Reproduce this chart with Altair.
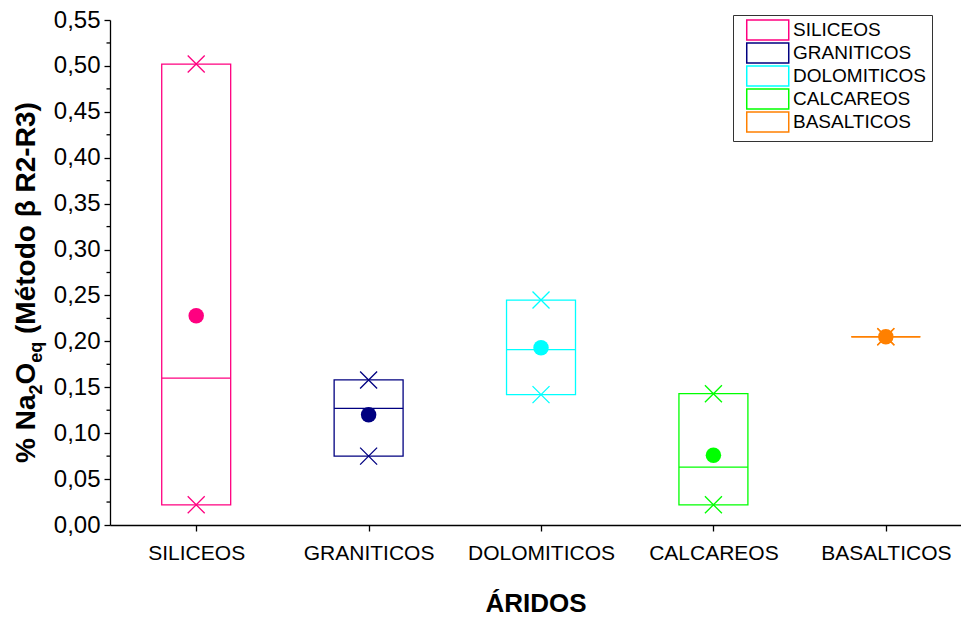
import altair as alt
import pandas as pd

# Aggregate kinds and their summary statistics (% Na2Oeq)
categories = ["SILICEOS", "GRANITICOS", "DOLOMITICOS", "CALCAREOS", "BASALTICOS"]
colors = ["#FF0080", "#000080", "#00FFFF", "#00FF00", "#FF8000"]
box_low = [0.022, 0.075, 0.142, 0.022, 0.205]
box_high = [0.502, 0.158, 0.245, 0.143, 0.205]
medians = [0.160, 0.127, 0.191, 0.063, 0.205]
means = [0.228, 0.120, 0.193, 0.076, 0.205]
minimums = [0.022, 0.075, 0.142, 0.022, 0.205]
maximums = [0.502, 0.158, 0.245, 0.143, 0.205]

y_major = [0.00, 0.05, 0.10, 0.15, 0.20, 0.25, 0.30, 0.35, 0.40, 0.45, 0.50, 0.55]
y_minor = [0.025, 0.075, 0.125, 0.175, 0.225, 0.275, 0.325, 0.375, 0.425, 0.475, 0.525]

FONT = "Liberation Sans"
BOX_HALF = 0.2  # half box width in category units
W, H = 851, 505

positions = list(range(1, len(categories) + 1))
df = pd.DataFrame({
    "cat": categories,
    "colour": colors,
    "pos": positions,
    "lo": [p - BOX_HALF for p in positions],
    "hi": [p + BOX_HALF for p in positions],
    "q1": box_low,
    "q3": box_high,
    "median": medians,
    "mean": means,
})
extremes = pd.DataFrame({
    "cat": categories * 2,
    "pos": positions * 2,
    "val": minimums + maximums,
})
minor_df = pd.DataFrame({"v": y_minor})

xscale = alt.Scale(domain=[0.5, 5.436], nice=False, zero=False)
yscale = alt.Scale(domain=[0, 0.55], nice=False, zero=False)
cscale = alt.Scale(domain=categories, range=colors)

label_lookup = "[" + ",".join("'%s'" % c for c in categories) + "]"
x_axis = alt.Axis(
    values=positions,
    labelExpr=label_lookup + "[datum.value - 1]",
    title="ÁRIDOS", titleFont=FONT, titleFontSize=26, titleFontWeight="bold",
    titlePadding=27, labelFont=FONT, labelFontSize=21, labelPadding=11,
    tickSize=6, grid=False, labelColor="black", titleColor="black",
)
y_axis = alt.Axis(
    values=y_major, format=".2f", labelExpr="replace(datum.label, '.', ',')",
    title="", labelFont=FONT, labelFontSize=24, labelPadding=4,
    tickSize=6, grid=False, orient="left", labelColor="black",
)

# Wide outlined swatch drawn to the right of the symbol cell
rect_path = "M-0.21,-1.667L6.79,-1.667L6.79,1.667L-0.21,1.667Z"
legend = alt.Legend(
    title=None, orient="none", legendX=623, legendY=-5, padding=5.5,
    strokeColor="#333333", symbolType=rect_path, symbolSize=144,
    symbolStrokeWidth=1.5, symbolFillColor="transparent", labelOffset=35.5,
    rowPadding=-4, labelFont=FONT, labelFontSize=19, labelColor="black",
)

X = lambda f: alt.X(f, scale=xscale, axis=x_axis)
Y = lambda f: alt.Y(f, scale=yscale, axis=y_axis)

boxes = alt.Chart(df).mark_rect(filled=False, strokeWidth=1.3).encode(
    x=X("lo:Q"),
    x2="hi",
    y=Y("q1:Q"),
    y2="q3",
    stroke=alt.Stroke("cat:N", scale=cscale, legend=legend),
)

median_lines = alt.Chart(df).mark_rule(strokeWidth=1.3).encode(
    x=X("lo:Q"),
    x2="hi",
    y=Y("median:Q"),
    stroke=alt.Stroke("cat:N", scale=cscale, legend=legend),
)

cross = "M-1,-1L1,1M1,-1L-1,1"
extreme_marks = alt.Chart(extremes).mark_point(
    shape=cross, size=289, strokeWidth=1.3, filled=False, opacity=1
).encode(
    x=X("pos:Q"),
    y=Y("val:Q"),
    stroke=alt.Stroke("cat:N", scale=cscale, legend=legend),
)

mean_dots = alt.Chart(df).mark_point(
    shape="circle", size=240, filled=True, opacity=1, strokeWidth=0
).encode(
    x=X("pos:Q"),
    y=Y("mean:Q"),
    fill=alt.Fill("colour:N", scale=None),
)

# Minor ticks on the left axis
minor_ticks = alt.Chart(minor_df).mark_rule(color="black", strokeWidth=1.3).encode(
    y=Y("v:Q"),
    x=alt.value(-3.5),
    x2=alt.value(0),
)

# Vertical axis title with subscripts, built piece by piece
WIDTHS = {"%": 0.889, " ": 0.278, "N": 0.722, "a": 0.556, "2": 0.556, "O": 0.778,
          "e": 0.556, "q": 0.611, "(": 0.333, "M": 0.833, "é": 0.556, "t": 0.333,
          "o": 0.611, "d": 0.611, "β": 0.611, "R": 0.722, "-": 0.333, "3": 0.556,
          ")": 0.333}
MAIN, SUB = 28, 18
pieces = [("% Na", False), ("2", True), ("O", False), ("eq", True),
          (" (Método β R2-R3)", False)]
base_x, sub_x = -75, -68
cursor = 443
title_layers = []
for text, is_sub in pieces:
    fs = SUB if is_sub else MAIN
    shown = text.lstrip()
    cursor -= (len(text) - len(shown)) * WIDTHS[" "] * fs
    title_layers.append(
        alt.Chart(pd.DataFrame({"t": [shown]})).mark_text(
            angle=270, align="left", baseline="alphabetic", font=FONT,
            fontWeight="bold", fontSize=fs, color="black",
        ).encode(text="t:N", x=alt.value(sub_x if is_sub else base_x),
                 y=alt.value(cursor))
    )
    cursor -= sum(WIDTHS.get(ch, 0.6) for ch in shown) * fs

chart = alt.layer(
    boxes, median_lines, extreme_marks, mean_dots, minor_ticks, *title_layers
).properties(
    width=W, height=H,
    autosize=alt.AutoSizeParams(type="none"),
    padding={"left": 110, "top": 20, "right": 0, "bottom": 94},
    background="white",
).configure_view(stroke=None).configure_axis(
    domainColor="black", domainWidth=1.3, tickColor="black", tickWidth=1.3,
)

chart.save("out.html", embed_options={"renderer": "svg", "actions": False})
